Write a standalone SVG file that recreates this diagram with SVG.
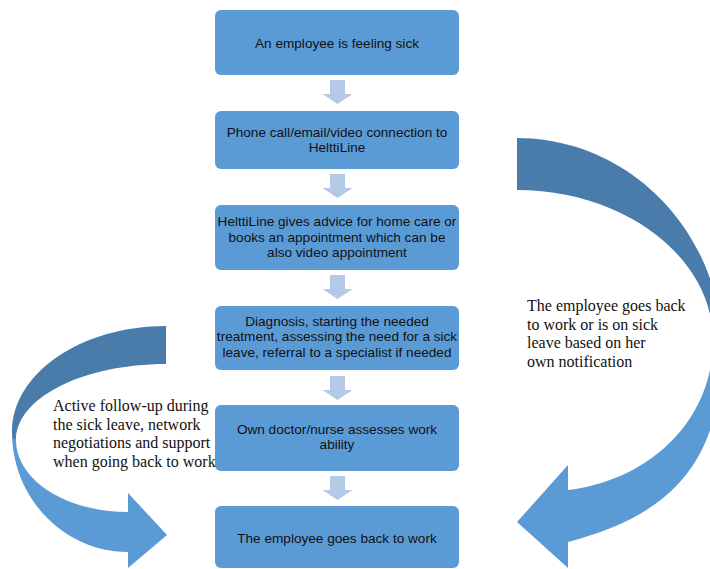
<svg xmlns="http://www.w3.org/2000/svg" width="710" height="569" viewBox="0 0 710 569">
<style>
.box{fill:#5b9bd5;}
.bt{font-family:"Liberation Sans",Arial,sans-serif;font-size:13.6px;fill:#111;text-anchor:middle;}
.st{font-family:"Liberation Serif","Times New Roman",serif;font-size:16px;fill:#111;}
.dn{fill:#b4c8e8;}
</style>
<defs>
<linearGradient id="gR" gradientUnits="userSpaceOnUse" x1="0" y1="138" x2="0" y2="568">
<stop offset="0" stop-color="#497cab"/>
<stop offset="0.47" stop-color="#497cab"/>
<stop offset="0.49" stop-color="#5b9bd5"/>
<stop offset="1" stop-color="#5b9bd5"/>
</linearGradient>
<linearGradient id="gL" gradientUnits="userSpaceOnUse" x1="0" y1="326" x2="0" y2="568">
<stop offset="0" stop-color="#497cab"/>
<stop offset="0.462" stop-color="#497cab"/>
<stop offset="0.47" stop-color="#5b9bd5"/>
<stop offset="1" stop-color="#5b9bd5"/>
</linearGradient>
</defs>
<rect width="710" height="569" fill="#fff"/>

<g id="connectors">
<polygon class="dn" points="330,80 345,80 345,94 352.5,94 337.5,104 322.5,94 330,94"/>
<polygon class="dn" points="330,174 345,174 345,188 352.5,188 337.5,198 322.5,188 330,188"/>
<polygon class="dn" points="330,275 345,275 345,289 352.5,289 337.5,299 322.5,289 330,289"/>
<polygon class="dn" points="330,376 345,376 345,390 352.5,390 337.5,400 322.5,390 330,390"/>
<polygon class="dn" points="330,476 345,476 345,490 352.5,490 337.5,500 322.5,490 330,490"/>
<path id="curve-right" fill="url(#gR)" d="M517,138 C630,138 722,233 722,350 C722,480 650,520 568,542 L568,568 L517,522 L568,465 L568,490 C650,480 713,420 713,340 C713,258 625,190 517,190 Z"/>
<path id="curve-left" fill="url(#gL)" d="M166,326 C81,326 12,373.5 12,432 C12,498 64,552 128,552 L128,568 L167,535 L128,493 L128,512 C66,512 16,480 16,440 C16,398 83,364 166,364 Z"/>
</g>

<g id="n1"><rect class="box" x="215" y="10" width="244" height="65" rx="6"/>
<text class="bt" x="337" y="47.5">An employee is feeling sick</text></g>
<g id="n2"><rect class="box" x="215" y="111" width="244" height="58" rx="6"/>
<text class="bt" x="337" y="136.7">Phone call/email/video connection to</text>
<text class="bt" x="337" y="151.7">HelttiLine</text></g>
<g id="n3"><rect class="box" x="215" y="205" width="244" height="65" rx="6"/>
<text class="bt" x="337" y="226">HelttiLine gives advice for home care or</text>
<text class="bt" x="337" y="241.5">books an appointment which can be</text>
<text class="bt" x="337" y="257">also video appointment</text></g>
<g id="n4"><rect class="box" x="215" y="306" width="244" height="64" rx="6"/>
<text class="bt" x="337" y="325.7">Diagnosis, starting the needed</text>
<text class="bt" x="337" y="341.2">treatment, assessing the need for a sick</text>
<text class="bt" x="337" y="356.7">leave, referral to a specialist if needed</text></g>
<g id="n5"><rect class="box" x="215" y="405" width="244" height="66" rx="6"/>
<text class="bt" x="337" y="434.3">Own doctor/nurse assesses work</text>
<text class="bt" x="337" y="449.3">ability</text></g>
<g id="n6"><rect class="box" x="215" y="506" width="244" height="62" rx="6"/>
<text class="bt" x="337" y="542.7">The employee goes back to work</text></g>

<g id="label-right">
<text class="st" x="527" y="311">The employee goes back</text>
<text class="st" x="527" y="329.5">to work or is on sick</text>
<text class="st" x="527" y="348">leave based on her</text>
<text class="st" x="527" y="366.5">own notification</text>
</g>
<g id="label-left">
<text class="st" x="53" y="411">Active follow-up during</text>
<text class="st" x="53" y="429.5">the sick leave, network</text>
<text class="st" x="53" y="448">negotiations and support</text>
<text class="st" x="53" y="466.5">when going back to work</text>
</g>
</svg>
